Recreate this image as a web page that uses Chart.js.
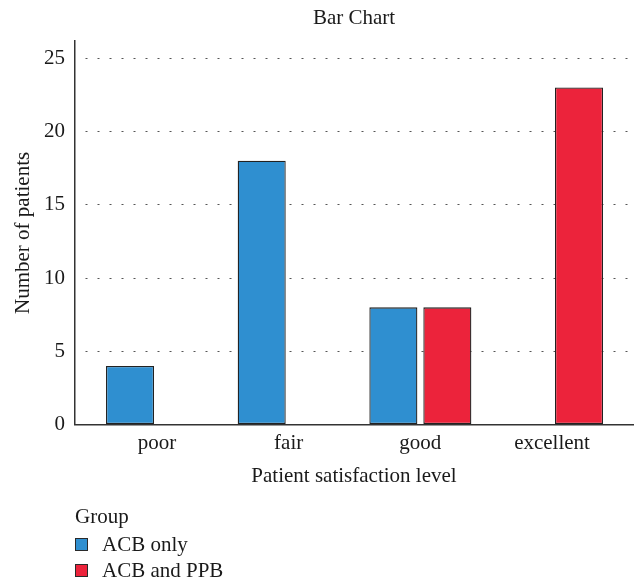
<!DOCTYPE html>
<html><head><meta charset="utf-8">
<script src="https://cdn.jsdelivr.net/npm/chart.js@4.4.0/dist/chart.umd.min.js"></script>
<style>
html,body{margin:0;padding:0;background:#fff;}
#wrap{position:relative;width:638px;height:582px;overflow:hidden;}
canvas{display:block;}
#legend{position:absolute;left:75px;top:503px;font-family:'Liberation Serif',serif;font-size:21px;color:#1a1a1a;line-height:26px;}
#legend .ttl{height:26px;margin-bottom:2px;}
#legend .item{display:flex;align-items:center;height:26px;}
#legend .sw{width:11px;height:11px;border:1px solid #2a2a2a;margin-right:14px;}
</style></head>
<body>
<div id="wrap"><canvas id="c" width="638" height="582"></canvas><div id="legend"></div></div>
<script>
const categories = ['poor', 'fair', 'good', 'excellent'];
const seriesNames = ['ACB only', 'ACB and PPB'];
const acbOnly = [4, 18, 8, 0];
const acbAndPpb = [0, 0, 8, 23];
const yTickValues = [0, 5, 10, 15, 20, 25];
const chartTitle = 'Bar Chart';
const xTitle = 'Patient satisfaction level';
const yTitle = 'Number of patients';
const legendTitle = 'Group';
const colors = ['#2f8fd0', '#ec233b'];

const FONT = "'Liberation Serif', 'Times New Roman', serif";
const TXT = '#1a1a1a';

const toPoints = arr => arr.map((v, i) => ({ x: i, y: v }));

const chart = new Chart(document.getElementById('c'), {
  type: 'bar',
  data: {
    datasets: [
      { label: seriesNames[0], data: toPoints(acbOnly), backgroundColor: colors[0] },
      { label: seriesNames[1], data: toPoints(acbAndPpb), backgroundColor: colors[1] }
    ]
  },
  options: {
    responsive: false,
    animation: false,
    devicePixelRatio: 1,
    categoryPercentage: 0.82,
    barPercentage: 0.89,
    datasets: { bar: { borderColor: '#222', borderWidth: 1.3, borderSkipped: false } },
    layout: { padding: { left: 7, right: 5, top: 0, bottom: 89 } },
    plugins: {
      legend: { display: false },
      tooltip: { enabled: false },
      title: {
        display: true, text: chartTitle, fullSize: false, color: TXT,
        font: { family: FONT, size: 21, weight: 'normal' },
        padding: { top: 6, bottom: 10 }
      }
    },
    scales: {
      x: {
        type: 'linear',
        offset: false,
        min: -0.623, max: 3.615,
        grid: { display: false, drawTicks: false, offset: false },
        border: { display: true, color: '#333', width: 1.5 },
        ticks: {
          stepSize: 1, padding: 6, color: TXT, autoSkip: false, maxRotation: 0,
          font: { family: FONT, size: 21 },
          callback: v => categories[v]
        },
        afterBuildTicks: s => { s.ticks = categories.map((c, i) => ({ value: i })); },
        title: { display: true, text: xTitle, color: TXT, font: { family: FONT, size: 21 }, padding: { top: 2, bottom: 4 } }
      },
      y: {
        min: 0, max: 26.16,
        grid: { color: '#555', lineWidth: 1, drawTicks: false },
        border: { display: true, color: '#333', width: 1.5, dash: [2, 10], dashOffset: -10 },
        ticks: { stepSize: 5, padding: 10, color: TXT, font: { family: FONT, size: 21 } },
        afterBuildTicks: s => { s.ticks = yTickValues.map(v => ({ value: v })); },
        afterFit: s => { s.width = 68; },
        title: { display: true, text: yTitle, color: TXT, font: { family: FONT, size: 21 }, padding: { top: 4, bottom: 8 } }
      }
    }
  }
});

const lg = document.getElementById('legend');
const t = document.createElement('div'); t.className = 'ttl'; t.textContent = legendTitle; lg.appendChild(t);
chart.data.datasets.forEach(ds => {
  const it = document.createElement('div'); it.className = 'item';
  const sw = document.createElement('span'); sw.className = 'sw'; sw.style.background = ds.backgroundColor;
  const lb = document.createElement('span'); lb.textContent = ds.label;
  it.appendChild(sw); it.appendChild(lb); lg.appendChild(it);
});
</script>
</body></html>
